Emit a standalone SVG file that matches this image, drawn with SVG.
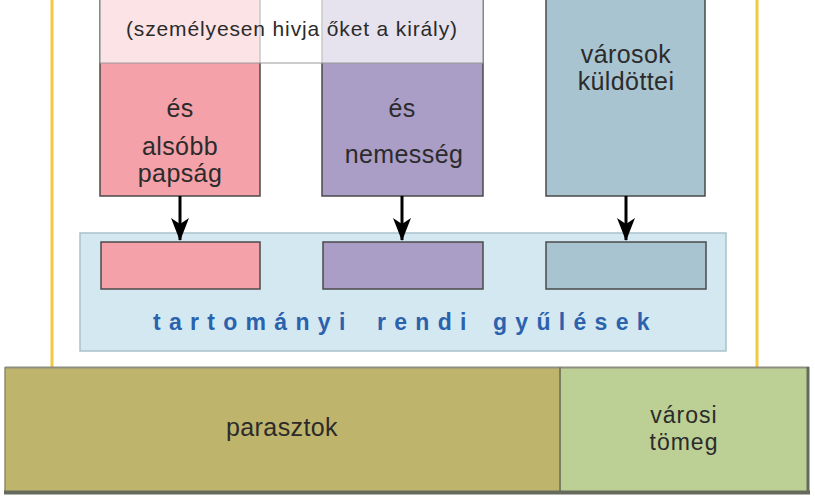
<svg xmlns="http://www.w3.org/2000/svg" width="815" height="503" viewBox="0 0 815 503">
  <defs>
    <style>
      .lbl { font-family: "Liberation Sans", Arial, sans-serif; font-size: 25px; fill: #2b2b2b; text-anchor: middle; letter-spacing: 0.4px; }
      .sm { font-size: 23px; letter-spacing: 1px; }
      .col { stroke: #4a4a4a; stroke-width: 1.5; }
      .pink { fill: #f5a1a9; }
      .purple { fill: #aa9dc6; }
      .blue { fill: #a8c4d0; }
      .title { font-family: "Liberation Sans", Arial, sans-serif; font-size: 23px; font-weight: bold; fill: #2b62ad; letter-spacing: 8.3px; }
      .conn { stroke: #000; stroke-width: 3; fill: none; }
      .yellow { stroke: #f5c842; stroke-width: 3; }
    </style>
    <marker id="arrow" markerWidth="24" markerHeight="20" refX="22" refY="10" orient="auto" markerUnits="userSpaceOnUse" viewBox="0 0 24 20">
      <path d="M0,1 L23,10 L0,19 L6,10 Z" fill="#000"/>
    </marker>
  </defs>

  <rect width="815" height="503" fill="#ffffff"/>

  <!-- frame lines -->
  <g id="frame">
    <line class="yellow" x1="52" y1="0" x2="52" y2="367"/>
    <line class="yellow" x1="757" y1="0" x2="757" y2="367"/>
  </g>

  <!-- columns -->
  <g id="col-pink">
    <rect class="col pink" x="100" y="-2" width="160" height="198"/>
    <text class="lbl" x="180" y="117">és</text>
    <text class="lbl" x="180" y="155">alsóbb</text>
    <text class="lbl" x="180" y="182">papság</text>
  </g>
  <g id="col-purple">
    <rect class="col purple" x="322" y="-2" width="161" height="198"/>
    <text class="lbl" x="402" y="117">és</text>
    <text class="lbl" x="404" y="163">nemesség</text>
  </g>
  <g id="col-blue">
    <rect class="col blue" x="546" y="-2" width="159" height="198"/>
    <text class="lbl" x="626" y="63">városok</text>
    <text class="lbl" x="626" y="90">küldöttei</text>
  </g>

  <!-- king overlay -->
  <g id="king">
    <rect x="100" y="-2" width="383" height="65" fill="#ffffff" fill-opacity="0.7" stroke="#9a9a9a" stroke-width="1"/>
    <text x="291.5" y="36" font-family="'Liberation Sans', Arial, sans-serif" font-size="21" fill="#2b2b2b" text-anchor="middle" textLength="331" lengthAdjust="spacing">(személyesen hivja őket a király)</text>
  </g>

  <!-- assembly panel -->
  <g id="assembly">
    <rect x="80" y="233" width="646" height="118" fill="#d4e8f1" stroke="#a9c1cc" stroke-width="1.5"/>
    <rect class="col pink" x="101" y="242" width="159" height="47"/>
    <rect class="col purple" x="323" y="242" width="160" height="47"/>
    <rect class="col blue" x="546" y="242" width="160" height="47"/>
    <text class="title" x="153" y="330">tartományi</text>
    <text class="title" x="377" y="330">rendi</text>
    <text class="title" x="493" y="330">gyűlések</text>
  </g>

  <!-- connectors -->
  <g id="connectors">
    <line class="conn" x1="180" y1="196" x2="180" y2="240" marker-end="url(#arrow)"/>
    <line class="conn" x1="402" y1="196" x2="402" y2="240" marker-end="url(#arrow)"/>
    <line class="conn" x1="626" y1="196" x2="626" y2="240" marker-end="url(#arrow)"/>
  </g>

  <!-- bottom band -->
  <g id="parasztok">
    <rect x="5" y="367" width="555" height="125" fill="#bfb46c"/>
    <text class="lbl" x="282" y="436">parasztok</text>
  </g>
  <g id="varosi-tomeg">
    <rect x="560" y="367" width="248" height="125" fill="#bccf95"/>
    <text class="lbl sm" x="684" y="423">városi</text>
    <text class="lbl sm" x="684" y="450">tömeg</text>
  </g>
  <g id="band-borders">
    <line x1="5" y1="367.5" x2="809" y2="367.5" stroke="#8d8d80" stroke-width="2"/>
    <line x1="560" y1="367" x2="560" y2="492" stroke="#7d7d62" stroke-width="2"/>
    <line x1="5" y1="367" x2="5" y2="492" stroke="#8d8d70" stroke-width="1.5"/>
    <line x1="808" y1="367" x2="808" y2="494" stroke="#666a5c" stroke-width="3"/>
    <line x1="4" y1="492.5" x2="810" y2="492.5" stroke="#666a5c" stroke-width="4"/>
  </g>
</svg>
